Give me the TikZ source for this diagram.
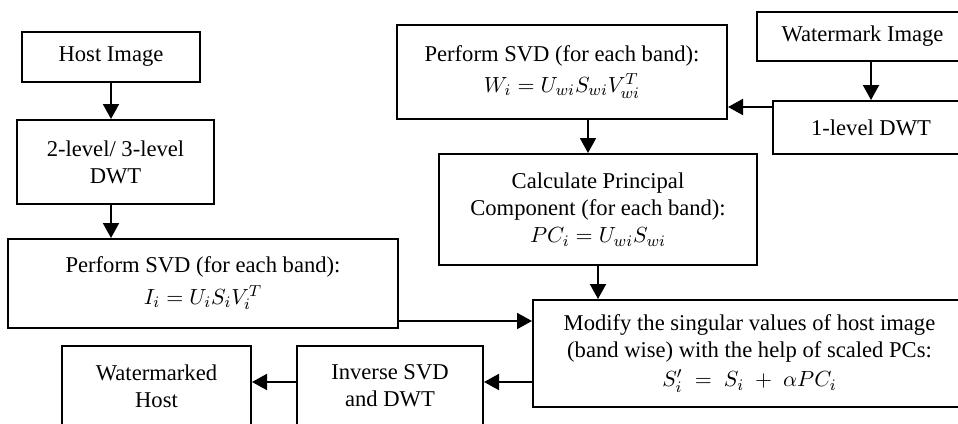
\documentclass[tikz,border=0pt]{standalone}
\usepackage{fontspec}
\setmainfont{Liberation Serif}
\usetikzlibrary{arrows.meta,calc}

\begin{document}
\begin{tikzpicture}[
    x=0.5pt, y=-0.5pt,
    font=\fontsize{11.3}{13.6}\selectfont,
    blk/.style={draw=black, line width=1pt, fill=white, align=center, inner sep=2pt},
    ar/.style={-{Triangle[length=7.5pt,width=8pt]}, line width=1pt, black},
]
  \useasboundingbox (0,0) rectangle (958,423);
  \clip (0,0) rectangle (958,423);
  % host image branch
  \node[blk, minimum width=89pt, minimum height=25pt]   (host)  at (111,57)    {Host Image};
  \node[blk, minimum width=98.5pt, minimum height=42pt] (dwtH)  at (115.5,162) {2-level/ 3-level\\DWT};
  \node[blk, minimum width=195pt, minimum height=44.5pt] (svdH) at (203,283.5) {Perform SVD (for each band):\\[2pt]$I_i = U_iS_iV_i^T$};
  % watermark branch
  \node[blk, minimum width=105.5pt, minimum height=24.5pt] (wmark) at (862.5,36.5) {Watermark Image};
  \node[blk, minimum width=98pt, minimum height=26.5pt]    (dwtW)  at (871,127.5)  {1-level DWT};
  \node[blk, minimum width=165pt, minimum height=47pt]     (svdW)  at (562,72)     {Perform SVD (for each band):\\[2pt]$W_i = U_{wi}S_{wi}V_{wi}^T$};
  \node[blk, minimum width=159pt, minimum height=55.5pt]   (pca)   at (598,209.5)  {Calculate Principal\\Component (for each band):\\$PC_i = U_{wi}S_{wi}$};
  % embedding and reconstruction
  \node[blk, minimum width=216.5pt, minimum height=53.5pt] (modify)  at (749.5,353.5) {Modify the singular values of host image\\(band wise) with the help of scaled PCs:\\[1pt]$S_i' \;=\; S_i \;+\; \alpha PC_i$};
  \node[blk, minimum width=93pt, minimum height=40pt]      (inverse) at (390,386)     {Inverse SVD\\and DWT};
  \node[blk, minimum width=94.5pt, minimum height=40pt]    (result)  at (156.5,386)   {Watermarked\\Host};
  \draw[ar] (host) -- (host |- dwtH.north);
  \draw[ar] (dwtH.south -| host) -- (host |- svdH.north);
  \draw[ar] (dwtW |- wmark.south) -- (dwtW);
  \draw[ar] ([yshift=-3.5pt]dwtW.north west) -- ([yshift=-3.5pt]dwtW.north west -| svdW.east);
  \draw[ar] ([xshift=-5pt]svdW.south -| pca) -- ([xshift=-5pt]pca.north);
  \draw[ar] (pca) -- (pca |- modify.north);
  \draw[ar] ([yshift=4pt]svdH.south east) -- ([yshift=4pt]svdH.south east -| modify.west);
  \draw[ar] ([yshift=2pt]modify.west |- inverse) -- ([yshift=2pt]inverse.east);
  \draw[ar] ([yshift=2pt]inverse.west) -- ([yshift=2pt]result.east);
\end{tikzpicture}
\end{document}
